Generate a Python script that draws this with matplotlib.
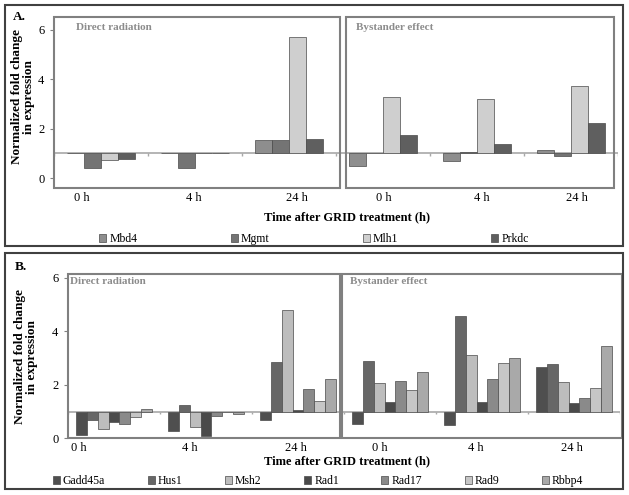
import numpy as np
import matplotlib
matplotlib.use("Agg")
import matplotlib.pyplot as plt
from matplotlib.patches import Rectangle

plt.rcParams["font.family"] = ["Liberation Serif", "DejaVu Serif"]

# DATA (fold change, baseline = 1)
groups = ["0 h", "4 h", "24 h", "0 h", "4 h", "24 h"]

genes_a = ["Mbd4", "Mgmt", "Mlh1", "Prkdc"]
mbd4 = [1.0, 1.0, 1.54, 0.50, 0.70, 1.15]
mgmt = [0.40, 0.40, 1.54, 1.0, 1.05, 0.90]
mlh1 = [0.72, 1.0, 5.70, 3.27, 3.19, 3.73]
prkdc = [0.78, 1.0, 1.58, 1.74, 1.38, 2.22]
values_a = [mbd4, mgmt, mlh1, prkdc]
colors_a = ["#8e8e8e", "#747474", "#cfcfcf", "#5f5f5f"]

genes_b = ["Gadd45a", "Hus1", "Msh2", "Rad1", "Rad17", "Rad9", "Rbbp4"]
gadd45a = [0.13, 0.28, 0.69, 0.54, 0.48, 2.65]
hus1 = [0.69, 1.26, 2.84, 2.88, 4.56, 2.76]
msh2 = [0.34, 0.44, 4.80, 2.06, 3.10, 2.09]
rad1 = [0.60, 0.09, 1.05, 1.35, 1.35, 1.32]
rad17 = [0.53, 0.85, 1.85, 2.13, 2.21, 1.50]
rad9 = [0.81, 1.0, 1.41, 1.81, 2.80, 1.87]
rbbp4 = [1.08, 0.90, 2.22, 2.46, 2.99, 3.45]
values_b = [gadd45a, hus1, msh2, rad1, rad17, rad9, rbbp4]
colors_b = ["#4f4f4f", "#676767", "#bdbdbd", "#4a4a4a", "#8a8a8a", "#c6c6c6", "#a9a9a9"]

W, H = 629, 495
fig = plt.figure(figsize=(W / 100, H / 100), dpi=100)


def px_axes(left, right, top, bottom):
    return fig.add_axes([left / W, 1 - bottom / H, (right - left) / W, (bottom - top) / H])


def panel(ax, values, colors, labels, ylim, label_pos, boxes, group_frac):
    n = len(values)
    x = np.arange(len(groups))
    w = group_frac / n
    for i, (vals, c, lab) in enumerate(zip(values, colors, labels)):
        vals = np.array(vals)
        ax.bar(x - group_frac / 2 + w * (i + 0.5), vals - 1, bottom=1, width=w,
               color=c, edgecolor="#4a4a4a", linewidth=0.5, label=lab, zorder=3)
    ax.set_xlim(-0.5, len(groups) - 0.5)
    ax.set_ylim(*ylim)
    ax.axhline(1, color="#a8a8a8", lw=1.2, zorder=2)
    d = (ylim[1] - ylim[0]) * 0.018
    ax.vlines(np.arange(len(groups) + 1) - 0.5, 1 - d, 1, color="#a8a8a8", lw=1, zorder=2)
    for s in ax.spines.values():
        s.set_visible(False)
    ax.set_xticks(label_pos, groups)
    ax.tick_params(axis="x", length=0, pad=3, labelsize=9)
    ax.set_yticks([0, 2, 4, 6])
    ax.tick_params(axis="y", length=3, color="#808080", pad=4, labelsize=9)
    tr = ax.get_xaxis_transform()
    for x0, x1 in boxes:
        ax.add_patch(Rectangle((x0, 0), x1 - x0, 1, transform=tr, fill=False,
                               edgecolor="#808080", lw=1.5, clip_on=False, zorder=4))


# PANEL A
ax_a = px_axes(54, 618, 17, 188)
panel(ax_a, values_a, colors_a, genes_a, (-0.405, 6.526),
      [-0.2, 0.99, 2.085, 3.01, 4.05, 5.06], [(-0.5, 2.54), (2.61, 5.46)], 0.734)

# PANEL B
ax_b = px_axes(68, 620, 274, 438.3)
panel(ax_b, values_b, colors_b, genes_b, (0, 6.14),
      [-0.38, 0.826, 1.978, 2.89, 3.93, 4.98], [(-0.5, 2.457), (2.478, 5.52)], 0.82)

gray_txt = "#8c8c8c"
fig.text(76 / W, 1 - 28 / H, "Direct radiation", color=gray_txt, fontsize=8, weight="bold", va="center")
fig.text(356 / W, 1 - 28 / H, "Bystander effect", color=gray_txt, fontsize=8, weight="bold", va="center")
fig.text(70 / W, 1 - 282 / H, "Direct radiation", color=gray_txt, fontsize=8, weight="bold", va="center")
fig.text(350 / W, 1 - 282 / H, "Bystander effect", color=gray_txt, fontsize=8, weight="bold", va="center")

fig.text(13 / W, 1 - 17 / H, "A.", fontsize=9.5, weight="bold", va="center")
fig.text(15 / W, 1 - 267 / H, "B.", fontsize=9.5, weight="bold", va="center")

ylab = "Normalized fold change\nin expression"
fig.text(23 / W, 1 - 97 / H, ylab, rotation=90, fontsize=9.5, weight="bold",
         ha="center", va="center", ma="center", linespacing=1.1)
fig.text(26 / W, 1 - 357 / H, ylab, rotation=90, fontsize=9.5, weight="bold",
         ha="center", va="center", ma="center", linespacing=1.1)

fig.text(347 / W, 1 - 217 / H, "Time after GRID treatment (h)", fontsize=9, weight="bold",
         ha="center", va="center")
fig.text(347 / W, 1 - 461 / H, "Time after GRID treatment (h)", fontsize=9, weight="bold",
         ha="center", va="center")

h, l = ax_a.get_legend_handles_labels()
fig.legend(h, l, loc="center", bbox_to_anchor=(314 / W, 1 - 239 / H), ncol=4, frameon=False,
           fontsize=8.5, handlelength=0.6, handleheight=0.6, handletextpad=0.25,
           columnspacing=7.9, borderpad=0)
h, l = ax_b.get_legend_handles_labels()
fig.legend(h, l, loc="center", bbox_to_anchor=(318 / W, 1 - 481 / H), ncol=7, frameon=False,
           fontsize=8.5, handlelength=0.6, handleheight=0.6, handletextpad=0.25,
           columnspacing=3.6, borderpad=0)

# OUTER FRAMES
for top, bottom in [(5, 246), (253, 489)]:
    fig.add_artist(Rectangle((5 / W, 1 - bottom / H), 618 / W, (bottom - top) / H,
                             transform=fig.transFigure, fill=False, edgecolor="#404040", lw=1.5))

fig.savefig("out.png", dpi=100)
